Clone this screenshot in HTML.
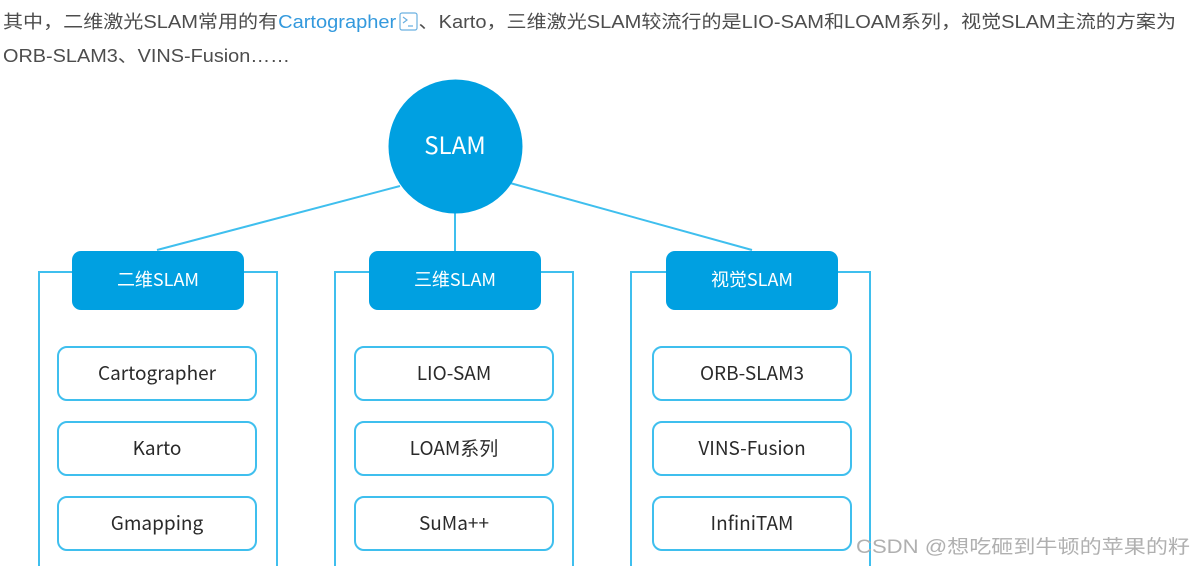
<!DOCTYPE html>
<html><head><meta charset="utf-8"><style>
html,body{margin:0;padding:0;background:#fff;width:1194px;height:566px;overflow:hidden}
svg{display:block}
.t{font-family:"Liberation Sans","Noto Sans CJK SC",sans-serif;font-size:18px;fill:#4d4d4d}
.n{font-family:"Noto Sans CJK SC","Liberation Sans",sans-serif;font-size:19px;fill:#2a2a2a;text-anchor:middle}
.h{font-family:"Noto Sans CJK SC","Liberation Sans",sans-serif;font-size:18px;fill:#fff;text-anchor:middle}
</style></head><body>
<svg width="1194" height="566" xmlns="http://www.w3.org/2000/svg">
<text class="t" x="3" y="28" textLength="1173" lengthAdjust="spacingAndGlyphs">其中，二维激光SLAM常用的有<tspan fill="#3399dd">Cartographer</tspan><tspan fill="#fff">__</tspan>、Karto，三维激光SLAM较流行的是LIO-SAM和LOAM系列，视觉SLAM主流的方案为</text>
<rect x="400" y="13" width="17" height="17" rx="2" fill="#fff" stroke="#6ab0e0" stroke-width="1.2"/>
<path d="M403 17 l4 3 -4 3 M408 26 h5" stroke="#6ab0e0" stroke-width="1.2" fill="none"/>
<text class="t" x="3" y="62" textLength="287" lengthAdjust="spacingAndGlyphs">ORB-SLAM3、VINS-Fusion……</text>

<g stroke="#3fbfee" stroke-width="2" fill="none">
<line x1="400" y1="186" x2="157" y2="250"/>
<line x1="455" y1="212" x2="455" y2="251"/>
<line x1="510" y1="183" x2="752" y2="250"/>
<path d="M39 566 V272 H277 V566"/>
<path d="M335 566 V272 H573 V566"/>
<path d="M631 566 V272 H870 V566"/>
<rect x="58" y="347" width="198" height="53" rx="9"/>
<rect x="58" y="422" width="198" height="53" rx="9"/>
<rect x="58" y="497" width="198" height="53" rx="9"/>
<rect x="355" y="347" width="198" height="53" rx="9"/>
<rect x="355" y="422" width="198" height="53" rx="9"/>
<rect x="355" y="497" width="198" height="53" rx="9"/>
<rect x="653" y="347" width="198" height="53" rx="9"/>
<rect x="653" y="422" width="198" height="53" rx="9"/>
<rect x="653" y="497" width="198" height="53" rx="9"/>
</g>
<circle cx="455.5" cy="146.5" r="67" fill="#00a0e1"/>
<text class="h" x="455" y="154" style="font-size:24px">SLAM</text>
<rect x="72" y="251" width="172" height="59" rx="9" fill="#00a0e1"/>
<rect x="369" y="251" width="172" height="59" rx="9" fill="#00a0e1"/>
<rect x="666" y="251" width="172" height="59" rx="9" fill="#00a0e1"/>
<text class="h" x="158" y="286">二维SLAM</text>
<text class="h" x="455" y="286">三维SLAM</text>
<text class="h" x="752" y="286">视觉SLAM</text>
<text class="n" x="157" y="380">Cartographer</text>
<text class="n" x="157" y="455">Karto</text>
<text class="n" x="157" y="530">Gmapping</text>
<text class="n" x="454" y="380">LIO-SAM</text>
<text class="n" x="454" y="455">LOAM系列</text>
<text class="n" x="454" y="530">SuMa++</text>
<text class="n" x="752" y="380">ORB-SLAM3</text>
<text class="n" x="752" y="455">VINS-Fusion</text>
<text class="n" x="752" y="530">InfiniTAM</text>
<text x="856" y="553" font-family="Liberation Sans,Noto Sans CJK SC,sans-serif" font-size="19" fill="#b0b0b0" textLength="334" lengthAdjust="spacingAndGlyphs">CSDN @想吃砸到牛顿的苹果的籽</text>
</svg>
</body></html>
